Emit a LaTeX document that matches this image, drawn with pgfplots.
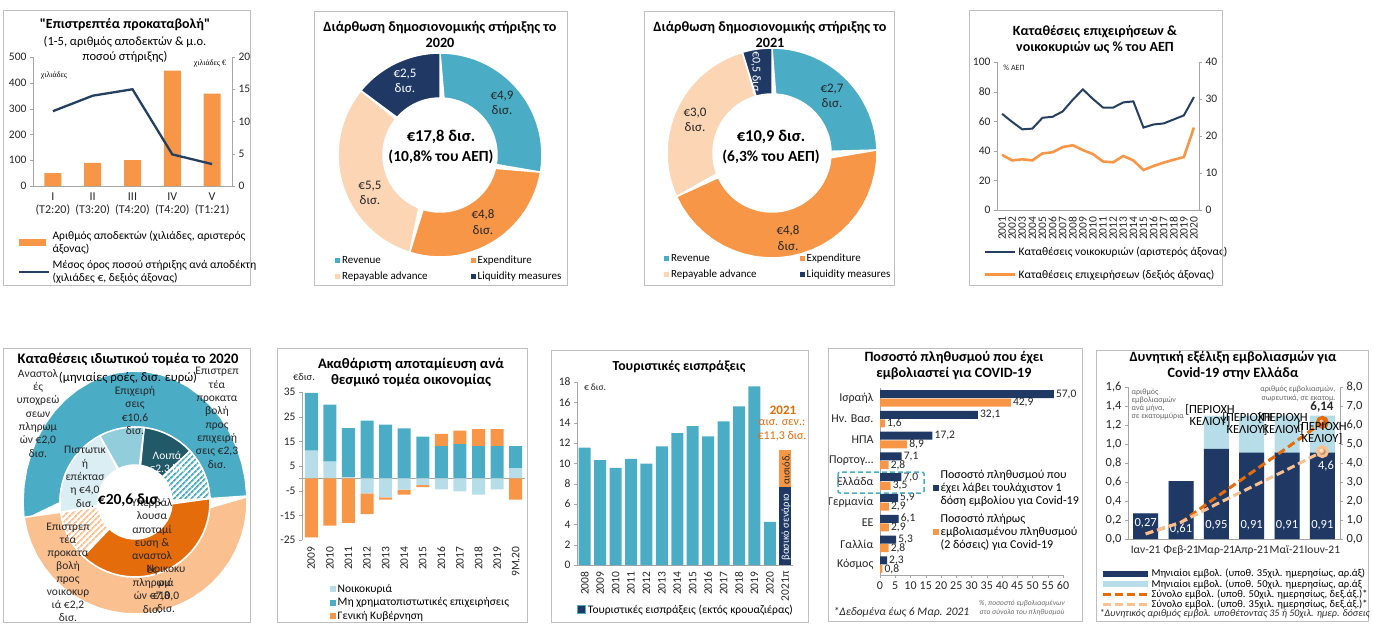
\documentclass[border=0pt]{standalone}
\usepackage{fontspec}
\setmainfont{Carlito}
\newfontfamily\tnr{Liberation Serif}
\usepackage{pgfplots}
\pgfplotsset{compat=1.18}
\usetikzlibrary{patterns.meta}

\definecolor{cteal}{HTML}{4BACC6}
\definecolor{corange}{HTML}{F79646}
\definecolor{cnavy}{HTML}{1F3864}
\definecolor{cline}{HTML}{243F60}
\definecolor{cpeach}{HTML}{FCD5B5}
\definecolor{cpeach2}{HTML}{FAC090}
\definecolor{cdteal}{HTML}{215968}
\definecolor{clblue}{HTML}{92CDDC}
\definecolor{cvlblue}{HTML}{DAEEF3}
\definecolor{cdorange}{HTML}{E46C0A}
\definecolor{cpale}{HTML}{B7DEE8}
\definecolor{cframe}{HTML}{BFBFBF}
\definecolor{ctxt}{HTML}{262626}

\newcommand\fs[2]{\fontsize{#1}{#2}\selectfont}

% donut segment: offset (deg), from, to, total, inner r, outer Rx, outer Ry, style
\newcommand\seg[8]{%
  \addplot[#8, variable=\t, samples at={0,0.04,...,0.97,1,1.0001,1.04,1.08,...,2.0001}]
  ({(\t<=1)*#6*sin(#1+360*(#2+(#3-#2)*\t)/#4)+(\t>1)*#5*sin(#1+360*(#3-(#3-#2)*(\t-1))/#4)},
   {(\t<=1)*#7*cos(#1+360*(#2+(#3-#2)*\t)/#4)+(\t>1)*#5*cos(#1+360*(#3-(#3-#2)*(\t-1))/#4)}) -- cycle;}

\pgfplotsset{
  panel/.style={scale only axis, anchor=south west, clip=false,
    /pgf/number format/assume math mode=true, /pgf/number format/1000 sep={},
    tick label style={font=\fs{11.5}{13}, text=ctxt},
    axis line style={draw=gray!70, -}, tick style={draw=gray!70},
    major tick length=3pt, tick align=outside,
    legend style={draw=none, fill=none, cells={anchor=west, align=left}}},
  donut/.style={scale only axis, anchor=center, hide axis, clip=false,
    legend style={draw=none, fill=none, cells={anchor=west}}},
  ring/.style={draw=white, line width=1.5pt},
  lgrect/.style 2 args={legend image code/.code={\fill[##1, draw=none] (0pt,-#2) rectangle (#1,#2);}},
  lgline/.style={legend image code/.code={\draw[##1] (0pt,0pt) -- (#1,0pt);}},
}

\begin{document}
\begin{tikzpicture}
\path[use as bounding box] (0pt,0pt) rectangle (1373pt,-640pt);

% ================= Panel 1 =================
\begin{axis}[panel, at={(33pt,-186pt)}, width=199pt, height=129pt,
  ybar, bar width=17pt, xmin=0.5, xmax=5.5, ymin=0, ymax=500, ytick={0,100,...,500},
  axis x line*=bottom, axis y line*=left, xtick={1,...,5}, xtick style={draw=none},
  xticklabels={{I\\(Τ2:20)},{II\\(Τ3:20)},{III\\(Τ4:20)},{IV\\(Τ4:20)},{V\\(Τ1:21)}},
  xticklabel style={align=center, font=\fs{12}{13.5}}]
\addplot[fill=corange, draw=none] coordinates {(1,50) (2,90) (3,100) (4,447) (5,358)};
\end{axis}
\begin{axis}[panel, at={(33pt,-186pt)}, width=199pt, height=129pt,
  xmin=0.5, xmax=5.5, ymin=0, ymax=20, ytick={0,5,...,20},
  axis y line*=right, axis x line=none,
  legend style={at={(-0.09,-0.32)}, anchor=north west, font=\fs{11.5}{12.5}, row sep=3pt}]
\addlegendimage{fill=corange, lgrect={27pt}{3.5pt}}
\addlegendentry{Αριθμός αποδεκτών (χιλιάδες, αριστερός\\άξονας)}
\addplot[cline, line width=2.3pt, lgline=30pt]
  coordinates {(1,11.6) (2,14.0) (3,15.0) (4,4.9) (5,3.4)};
\addlegendentry{Μέσος όρος ποσού στήριξης ανά αποδέκτη\\(χιλιάδες €, δεξιός άξονας)}
\end{axis}

% ================= Panel 2 =================
\begin{axis}[donut, at={(440pt,-155pt)}, width=204pt, height=204pt,
  xmin=-102, xmax=102, ymin=-102, ymax=102,
  legend columns=2,
  legend style={at={(axis cs:-108,-97)}, anchor=north west, font=\fs{11}{12},
    /tikz/every even column/.append style={column sep=41pt}, row sep=3pt},
  legend image code/.code={\fill[#1, draw=none] (0pt,-2.5pt) rectangle (5pt,2.5pt);}]
\seg{0}{0}{4.9}{17.7}{57}{102}{102}{fill=cteal, ring}
\addlegendentry{Revenue}
\seg{0}{4.9}{9.7}{17.7}{57}{102}{102}{fill=corange, ring}
\addlegendentry{Expenditure}
\seg{0}{9.7}{15.2}{17.7}{57}{102}{102}{fill=cpeach, ring}
\addlegendentry{Repayable advance}
\seg{0}{15.2}{17.7}{17.7}{57}{102}{102}{fill=cnavy, ring}
\addlegendentry{Liquidity measures}
\end{axis}

% ================= Panel 3 =================
\begin{axis}[donut, at={(772pt,-153pt)}, width=210pt, height=210pt,
  xmin=-105, xmax=105, ymin=-105, ymax=105,
  legend columns=2,
  legend style={at={(axis cs:-111,-97)}, anchor=north west, font=\fs{11}{12},
    /tikz/every even column/.append style={column sep=41pt}, row sep=3pt},
  legend image code/.code={\fill[#1, draw=none] (0pt,-2.5pt) rectangle (5pt,2.5pt);}]
\seg{0}{0}{2.7}{11.0}{59}{105}{105}{fill=cteal, ring}
\addlegendentry{Revenue}
\seg{0}{2.7}{7.5}{11.0}{59}{105}{105}{fill=corange, ring}
\addlegendentry{Expenditure}
\seg{0}{7.5}{10.5}{11.0}{59}{105}{105}{fill=cpeach, ring}
\addlegendentry{Repayable advance}
\seg{0}{10.5}{11.0}{11.0}{59}{105}{105}{fill=cnavy, ring}
\addlegendentry{Liquidity measures}
\end{axis}

% ================= Panel 4 =================
\begin{axis}[panel, at={(997pt,-210pt)}, width=202pt, height=148pt,
  xmin=2000.5, xmax=2020.5, ymin=0, ymax=100, ytick={0,20,...,100}, xtick={2001,...,2020},
  xtick style={draw=none}, xticklabel style={rotate=90, anchor=east, font=\fs{11.5}{12}},
  axis x line*=bottom, axis y line*=left]
\addplot[cline, line width=2pt] coordinates {
  (2001,65) (2002,59.5) (2003,54.5) (2004,55) (2005,62.3) (2006,63) (2007,66.6)
  (2008,74.5) (2009,81.5) (2010,75) (2011,69.2) (2012,69.2) (2013,72.7) (2014,73.4)
  (2015,55.7) (2016,57.8) (2017,58.5) (2018,61.2) (2019,63.9) (2020,76.3)};
\end{axis}
\begin{axis}[panel, at={(997pt,-210pt)}, width=202pt, height=148pt,
  xmin=2000.5, xmax=2020.5, ymin=0, ymax=40, ytick={0,10,...,40},
  axis y line*=right, axis x line=none,
  legend style={at={(-0.08,-0.22)}, anchor=north west, font=\fs{11.5}{12.5}, row sep=9pt}]
\addlegendimage{cline, line width=2pt, lgline=30pt}
\addlegendentry{Καταθέσεις νοικοκυριών (αριστερός άξονας)}
\addplot[corange, line width=2.6pt, lgline=30pt] coordinates {
  (2001,14.9) (2002,13.4) (2003,13.7) (2004,13.4) (2005,15.3) (2006,15.6) (2007,17.0)
  (2008,17.5) (2009,16.2) (2010,15.1) (2011,13.1) (2012,12.9) (2013,14.6) (2014,13.4)
  (2015,10.8) (2016,11.9) (2017,12.8) (2018,13.6) (2019,14.3) (2020,22.3)};
\addlegendentry{Καταθέσεις επιχειρήσεων (δεξιός άξονας)}
\end{axis}

% ================= Panel 5 =================
\begin{axis}[donut, at={(135pt,-502pt)}, width=280pt, height=280pt,
  xmin=-140, xmax=140, ymin=-140, ymax=140]
% outer ring: businesses 10,6 / households 10,0
\seg{7}{14.6}{25.2}{20.6}{75}{112}{131}{fill=cteal, ring}
\seg{7}{4.6}{14.6}{20.6}{75}{112}{112}{fill=cpeach2, ring}
% inner ring
\seg{7}{0}{2.3}{20.6}{37}{75}{75}{fill=cdteal, ring}
\seg{7}{2.3}{4.6}{20.6}{37}{75}{75}{pattern={Lines[angle=45, distance=4pt, line width=1.8pt]}, pattern color=cteal, ring}
\seg{7}{4.6}{12.4}{20.6}{37}{75}{75}{fill=cdorange, ring}
\seg{7}{12.4}{14.6}{20.6}{37}{75}{75}{pattern={Lines[angle=45, distance=4pt, line width=1.8pt]}, pattern color=cpeach2, ring}
\seg{7}{14.6}{18.6}{20.6}{37}{75}{75}{fill=cvlblue, ring}
\seg{7}{18.6}{20.6}{20.6}{37}{75}{75}{fill=clblue, ring}
\end{axis}

% ================= Panel 6 =================
\begin{axis}[panel, at={(302pt,-540pt)}, width=223pt, height=148pt,
  ybar stacked, bar width=13pt, xmin=-0.5, xmax=11.5, ymin=-25, ymax=35,
  ytick={-25,-15,...,35}, xtick={0,...,11},
  xticklabels={2009,2010,2011,2012,2013,2014,2015,2016,2017,2018,2019,9M.20},
  xticklabel style={rotate=90, anchor=east}, xtick style={draw=none},
  axis y line*=left, axis x line*=bottom, x axis line style={draw=none},
  extra y ticks={0}, extra y tick labels={},
  extra y tick style={grid=major, major grid style={draw=gray!70}},
  legend style={at={(0.11,-0.27)}, anchor=north west, font=\fs{11.5}{12.5}, row sep=0pt},
  legend image code/.code={\fill[#1, draw=none] (0pt,-3pt) rectangle (6pt,3pt);}]
\addplot[fill=cpale, draw=none] coordinates {(0,11.2) (1,6.8) (2,0.4) (3,0) (4,0) (5,0) (6,0) (7,0) (8,0) (9,0) (10,0) (11,4.1)};
\addlegendentry{Νοικοκυριά}
\addplot[fill=cteal, draw=none] coordinates {(0,23.4) (1,23.1) (2,20.0) (3,23.4) (4,21.8) (5,20.3) (6,16.9) (7,13.1) (8,13.9) (9,13.1) (10,13.1) (11,9.0)};
\addlegendentry{Μη χρηματοπιστωτικές επιχειρήσεις}
\addplot[fill=corange, draw=none] coordinates {(0,0) (1,0) (2,0) (3,0) (4,0) (5,0) (6,0) (7,4.9) (8,5.4) (9,6.9) (10,6.9) (11,0)};
\addlegendentry{Γενική Κυβέρνηση}
\end{axis}
\begin{axis}[panel, at={(302pt,-540pt)}, width=223pt, height=148pt, hide axis,
  ybar stacked, bar width=13pt, xmin=-0.5, xmax=11.5, ymin=-25, ymax=35]
\addplot[fill=cpale, draw=none] coordinates {(0,0) (1,0) (2,0) (3,-6.1) (4,-7.7) (5,-4.6) (6,-2.7) (7,-4.5) (8,-5.3) (9,-6.6) (10,-4.5) (11,0)};
\addplot[fill=corange, draw=none] coordinates {(0,-23.9) (1,-19.2) (2,-18.1) (3,-8.4) (4,-0.9) (5,-2.0) (6,-0.9) (7,0) (8,0) (9,0) (10,0) (11,-8.6)};
\end{axis}

% ================= Panel 7 =================
\begin{axis}[panel, at={(577pt,-565pt)}, width=216pt, height=183pt,
  ybar, bar width=12pt, xmin=-0.5, xmax=13.5, ymin=0, ymax=18, ytick={0,2,...,18},
  xtick={0,...,13},
  xticklabels={2008,2009,2010,2011,2012,2013,2014,2015,2016,2017,2018,2019,2020,2021π},
  xticklabel style={rotate=90, anchor=east}, xtick style={draw=none},
  axis y line*=left, axis x line*=bottom,
  legend style={at={(-0.015,-0.195)}, anchor=north west, font=\fs{11.5}{12.5}}]
\addlegendimage{legend image code/.code={\draw[fill=cnavy, draw=cteal, line width=1pt] (0pt,-4pt) rectangle (8pt,4pt);}}
\addlegendentry{Τουριστικές εισπράξεις (εκτός κρουαζιέρας)}
\addplot[fill=cteal, draw=none, bar shift=0pt] coordinates {
  (0,11.55) (1,10.31) (2,9.55) (3,10.44) (4,9.98) (5,11.68) (6,12.96) (7,13.65)
  (8,12.66) (9,14.14) (10,15.61) (11,17.57) (12,4.25)};
\addplot[fill=corange, draw=none, bar shift=0pt] coordinates {(13,11.3)};
\addplot[fill=cnavy, draw=none, bar shift=0pt] coordinates {(13,7.7)};
\end{axis}

% ================= Panel 8 =================
\begin{axis}[panel, at={(880pt,-575pt)}, width=183pt, height=187pt,
  xbar, bar width=8pt, xmin=0, xmax=60, xtick={0,5,...,60},
  ymin=0.5, ymax=9.5, y dir=reverse, ytick={1,...,9}, ytick style={draw=none},
  yticklabels={Ισραήλ,Ην. Βασ.,ΗΠΑ,Πορτογ…,Ελλάδα,Γερμανία,ΕΕ,Γαλλία,Κόσμος},
  tick label style={font=\fs{12}{13}},
  axis x line*=bottom, axis y line*=left,
  point meta=x, nodes near coords,
  nodes near coords style={font=\fs{11.5}{12}, text=ctxt, inner sep=2pt,
    /pgf/number format/fixed, /pgf/number format/fixed zerofill,
    /pgf/number format/precision=1, /pgf/number format/use comma},
  legend style={at={(0.27,0.585)}, anchor=north west, font=\fs{12}{13}, row sep=4pt},
  legend image code/.code={\fill[#1, draw=none] (0pt,-3pt) rectangle (6pt,3pt);}]
\addplot[fill=cnavy, draw=none, bar shift=4.3pt] coordinates {
  (57.0,1) (32.1,2) (17.2,3) (7.1,4) (7.0,5) (5.9,6) (6.1,7) (5.3,8) (2.3,9)};
\addlegendentry{Ποσοστό πληθυσμού που\\έχει λάβει τουλάχιστον 1\\δόση εμβολίου για Covid-19}
\addplot[fill=corange, draw=none, bar shift=-4.3pt] coordinates {
  (42.9,1) (1.6,2) (8.9,3) (2.8,4) (3.5,5) (2.9,6) (2.9,7) (2.8,8) (0.8,9)};
\addlegendentry{Ποσοστό πλήρως\\εμβολιασμένου πληθυσμού\\(2 δόσεις) για Covid-19}
\end{axis}

% ================= Panel 9 =================
\begin{axis}[panel, at={(1128pt,-539pt)}, width=212pt, height=152pt,
  ybar, bar width=25pt, xmin=0.5, xmax=6.5, ymin=0, ymax=1.6,
  ytick={0,0.2,0.4,0.6,0.8,1.0,1.2,1.4,1.6}, xtick={1,...,6}, xtick style={draw=none},
  xticklabels={Ιαν-21,Φεβ-21,Μαρ-21,Απρ-21,Μαϊ-21,Ιουν-21},
  tick label style={font=\fs{12.5}{13}}, xticklabel style={font=\fs{11.5}{12}},
  yticklabel style={/pgf/number format/fixed, /pgf/number format/fixed zerofill,
    /pgf/number format/precision=1, /pgf/number format/use comma},
  axis y line*=left, axis x line*=bottom]
\addplot[fill=cpale, draw=none, bar shift=0pt] coordinates {(1,0.27) (2,0.61) (3,1.30) (4,1.30) (5,1.30) (6,1.30)};
\addplot[fill=cnavy, draw=none, bar shift=0pt] coordinates {(1,0.27) (2,0.61) (3,0.95) (4,0.91) (5,0.91) (6,0.91)};
\node[font=\fs{12.5}{13}, text=white] at (axis cs:1,0.17) {0,27};
\node[font=\fs{12.5}{13}, text=white] at (axis cs:2,0.10) {0,61};
\node[font=\fs{12.5}{13}, text=white] at (axis cs:3,0.15) {0,95};
\node[font=\fs{12.5}{13}, text=white] at (axis cs:4,0.15) {0,91};
\node[font=\fs{12.5}{13}, text=white] at (axis cs:5,0.15) {0,91};
\node[font=\fs{12.5}{13}, text=white] at (axis cs:6,0.15) {0,91};
\end{axis}
\begin{axis}[panel, at={(1128pt,-539pt)}, width=212pt, height=152pt,
  xmin=0.5, xmax=6.5, ymin=0, ymax=8, ytick={0,1,...,8},
  tick label style={font=\fs{12.5}{13}},
  yticklabel style={/pgf/number format/fixed, /pgf/number format/fixed zerofill,
    /pgf/number format/precision=1, /pgf/number format/use comma},
  axis y line*=right, axis x line=none,
  legend style={at={(-0.14,-0.17)}, anchor=north west, font=\fs{10.5}{10.5}, row sep=-2.8pt}]
\addlegendimage{fill=cnavy, lgrect={45pt}{3pt}}
\addlegendentry{Μηνιαίοι εμβολ. (υποθ. 35χιλ. ημερησίως, αρ.άξ)}
\addlegendimage{fill=cpale, lgrect={45pt}{3pt}}
\addlegendentry{Μηνιαίοι εμβολ. (υποθ. 50χιλ. ημερησίως, αρ.άξ}
\addplot[cdorange, line width=3pt, dash pattern=on 8pt off 4pt, lgline=45pt,
  mark=ball, mark indices={6}, mark size=5pt, mark options={solid, ball color=cdorange}]
  coordinates {(1,0.27) (2,0.88) (3,2.2) (4,3.5) (5,4.8) (6,6.14)};
\addlegendentry{Σύνολο εμβολ. (υποθ. 50χιλ. ημερησίως, δεξ.άξ.)*}
\addplot[cpeach2, line width=3pt, dash pattern=on 8pt off 4pt, lgline=45pt,
  mark=ball, mark indices={6}, mark size=5pt, mark options={solid, ball color=cpeach2}]
  coordinates {(1,0.27) (2,0.88) (3,1.83) (4,2.74) (5,3.65) (6,4.6)};
\addlegendentry{Σύνολο εμβολ. (υποθ. 35χιλ. ημερησίως, δεξ.άξ.)*}
\end{axis}

% ================= texts and frames (pixel coordinates) =================
\begin{scope}[x=1pt, y=-1pt]
\foreach \a/\b/\c/\d in {3/10/250/285, 314/11/567/285, 644/11/894/285, 969/10/1222/285,
  3/348/250/622, 277/348/527/622, 551/350/808/622, 828/348/1082/621, 1096/350/1368/621}
  \draw[cframe, line width=0.8pt] (\a,\b) rectangle (\c,\d);

% panel 1
\node[font=\bfseries\fs{14}{16}\addfontfeatures{Ligatures=TeXOff}] at (125,25) {"Επιστρεπτέα προκαταβολή"};
\node[font=\fs{12.5}{15}, align=center] at (125,49) {(1-5, αριθμός αποδεκτών \& μ.ο.\\ποσού στήριξης)};
\node[font=\tnr\fs{8}{9}] at (54,76) {χιλιάδες};
\node[font=\tnr\fs{8}{9}] at (210,64) {χιλιάδες €};

% panel 2
\node[font=\bfseries\fs{14.2}{16}, align=center] at (440,34) {Διάρθωση δημοσιονομικής στήριξης το\\2020};
\node[font=\fs{13}{15.5}, align=center, text=ctxt] at (502,103) {€4,9\\δισ.};
\node[font=\fs{13}{15.5}, align=center, text=ctxt] at (483,222) {€4,8\\δισ.};
\node[font=\fs{13}{15.5}, align=center, text=ctxt] at (370,193) {€5,5\\δισ.};
\node[font=\fs{13}{15.5}, align=center, text=white] at (405,81) {€2,5\\δισ.};
\node[font=\bfseries\fs{16.5}{18}] at (441,137) {€17,8 δισ.};
\node[font=\bfseries\fs{15.5}{18}] at (441,157) {(10,8\% του ΑΕΠ)};

% panel 3
\node[font=\bfseries\fs{14.2}{16}, align=center] at (770,34) {Διάρθωση δημοσιονομικής στήριξης το\\2021};
\node[font=\fs{13}{15.5}, align=center, text=ctxt] at (832,96) {€2,7\\δισ.};
\node[font=\fs{13}{15.5}, align=center, text=ctxt] at (695,120) {€3,0\\δισ.};
\node[font=\fs{13}{15.5}, align=center, text=ctxt] at (788,238) {€4,8\\δισ.};
\node[font=\fs{12}{13}, text=white, rotate=-90] at (756,73) {€0,5 δισ.};
\node[font=\bfseries\fs{16.5}{18}] at (771,137) {€10,9 δισ.};
\node[font=\bfseries\fs{15.5}{18}] at (771,157) {(6,3\% του ΑΕΠ)};

% panel 4
\node[font=\bfseries\fs{14}{16}, align=center] at (1095,40) {Καταθέσεις επιχειρήσεων \&\\νοικοκυριών ως \% του ΑΕΠ};
\node[font=\fs{8}{9}, text=ctxt] at (1014,68) {\% ΑΕΠ};

% panel 5
\node[font=\bfseries\fs{14.5}{17}] at (128,359) {Καταθέσεις ιδιωτικού τομέα το 2020};
\node[font=\fs{12.8}{16}] at (128,378) {(μηνιαίες ροές, δισ. ευρώ)};
\node[font=\fs{11.5}{13.3}, align=center, text=ctxt, anchor=north] at (38,366) {Αναστολ\\ές\\υποχρεώ\\σεων\\πληρωμ\\ών €2,0\\δισ.};
\node[font=\fs{11.5}{13.3}, align=center, text=ctxt, anchor=north] at (217,364) {Επιστρεπ\\τέα\\προκατα\\βολή\\προς\\επιχειρή\\σεις €2,3\\δισ.};
\node[font=\fs{11.5}{13.3}, align=center, text=ctxt, anchor=north] at (135,383) {Επιχειρή\\σεις\\€10,6\\δισ.};
\node[font=\fs{11.5}{13.3}, align=center, text=ctxt, anchor=north] at (85,443) {Πιστωτικ\\ή\\επέκτασ\\η €4,0\\δισ.};
\node[font=\fs{11.5}{13.3}, align=center, text=white, anchor=north] at (167,448) {Λοιπά\\€2.3 bn};
\node[font=\fs{11.5}{13.3}, align=center, text=ctxt, anchor=north] at (152,495) {Υπερβάλ\\λουσα\\αποταμί\\ευση \&\\αναστολ\\ές\\πληρωμ\\ών €7,8\\δισ.};
\node[font=\fs{11.5}{13.3}, align=center, text=ctxt, anchor=north] at (166,562) {Νοικοκυ\\ριά\\€10,0\\δισ.};
\node[font=\fs{11.5}{13}, align=center, text=ctxt, anchor=north] at (68,520) {Επιστρεπ\\τέα\\προκατα\\βολή\\προς\\νοικοκυρ\\ιά €2,2\\δισ.};
\node[font=\bfseries\fs{15.5}{17}] at (130,500) {€20,6 δισ.};

% panel 6
\node[font=\bfseries\fs{14.5}{16}, align=center] at (411,372) {Ακαθάριστη αποταμίευση ανά\\θεσμικό τομέα οικονομίας};
\node[font=\fs{10.5}{12}, text=ctxt] at (304,377) {€δισ.};

% panel 7
\node[font=\bfseries\fs{13.8}{17}] at (679,367) {Τουριστικές εισπράξεις};
\node[font=\fs{9.5}{11}, text=ctxt] at (595,387) {€ δισ.};
\node[font=\bfseries\fs{13}{14}, text=cdorange] at (783,410) {2021};
\node[font=\fs{12}{14}, text=cdorange] at (782,423) {αισ. σεν.:};
\node[font=\fs{12}{14}, text=cdorange] at (782,436) {€11,3 δισ.};
\node[font=\fs{10.5}{12}, text=white, rotate=90] at (786,527) {βασικό σενάριο};
\node[font=\fs{10.5}{12}, text=ctxt, rotate=90] at (786,469) {αισιόδ.};

% panel 8
\node[font=\bfseries\fs{14.2}{16}, align=center] at (954,366) {Ποσοστό πληθυσμού που έχει\\εμβολιαστεί για COVID-19};
\draw[cteal, line width=1.5pt, dash pattern=on 5pt off 3pt, rounded corners=2pt] (838,472) rectangle (924,493);
\node[font=\itshape\fs{11.5}{13}, anchor=west, text=ctxt] at (830,612) {*Δεδομένα έως 6 Μαρ. 2021};
\node[font=\itshape\fs{7.5}{9.5}, align=center, text=gray!80!black] at (1022,608) {\%, ποσοστό εμβολιασμένων\\στο σύνολο του πληθυσμού};

% panel 9
\node[font=\bfseries\fs{14.2}{16}, align=center] at (1233,366) {Δυνητική εξέλιξη εμβολιασμών για\\Covid-19 στην Ελλάδα};
\node[font=\fs{8}{8.2}, align=left, text=gray!80!black, anchor=north west] at (1128,385) {αριθμός\\εμβολιασμών\\ανά μήνα,\\σε εκατομμύρια};
\node[font=\fs{8}{9.5}, align=right, text=gray!80!black, anchor=north east] at (1339,382) {αριθμός εμβολιασμών,\\σωρευτικά, σε εκατομ.};
\node[font=\fs{12.5}{12.5}, align=center] at (1210,416) {[ΠΕΡΙΟΧΗ\\ΚΕΛΙΟΥ]};
\node[font=\fs{12.5}{12.5}, align=center] at (1247,424) {[ΠΕΡΙΟΧΗ\\ΚΕΛΙΟΥ]};
\node[font=\fs{12.5}{12.5}, align=center] at (1283,424) {[ΠΕΡΙΟΧΗ\\ΚΕΛΙΟΥ]};
\node[font=\fs{12.5}{12.5}, align=center] at (1322,433) {[ΠΕΡΙΟΧΗ\\ΚΕΛΙΟΥ]};
\node[font=\bfseries\fs{13}{14}, text=ctxt] at (1322,407) {6,14};
\node[font=\fs{12.5}{14}, text=white] at (1326,466) {4,6};
\node[font=\itshape\fs{10}{12}, anchor=west, text=ctxt] at (1096,614) {*Δυνητικός αριθμός εμβολ. υποθέτοντας 35 ή 50χιλ. ημερ. δόσεις};
\end{scope}
\end{tikzpicture}
\end{document}
